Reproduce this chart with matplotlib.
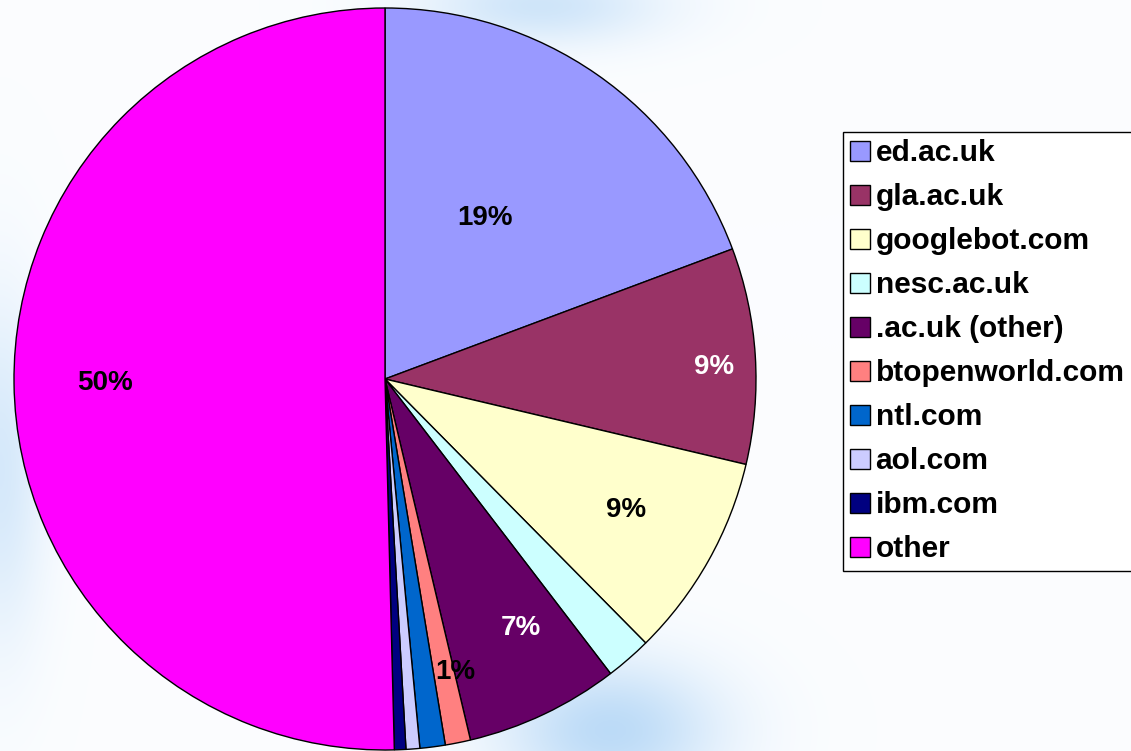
import matplotlib.pyplot as plt
import numpy as np
from matplotlib.patches import Patch

# share of hits per domain (percent)
domains = ['ed.ac.uk', 'gla.ac.uk', 'googlebot.com', 'nesc.ac.uk', '.ac.uk (other)',
           'btopenworld.com', 'ntl.com', 'aol.com', 'ibm.com', 'other']
shares = [19.3, 9.4, 8.9, 2.0, 6.7, 1.1, 1.1, 0.6, 0.5, 50.4]
colors = ['#9999FF', '#993366', '#FFFFCC', '#CCFFFF', '#660066',
          '#FF8080', '#0066CC', '#CCCCFF', '#000080', '#FF00FF']

# which slices carry a percentage label, where it sits, and in what colour
label_shown = [True, True, True, False, True, True, False, False, False, True]
label_dist = [0.51, 0.887, 0.739, 0.7, 0.765, 0.812, 0.8, 0.8, 0.8, 0.755]
label_turn = [2.9, -1.5, 0.8, 0, 3.2, 2.1, 0, 0, 0, 0]   # degrees off the slice middle
label_color = ['black', 'white', 'black', 'black', 'white', 'black', 'black', 'black', 'black', 'black']

plt.rcParams['font.family'] = ['Liberation Sans', 'DejaVu Sans']
plt.rcParams['font.weight'] = 'bold'

W, H = 1131, 751
fig = plt.figure(figsize=(W / 100, H / 100), dpi=100)

# soft bluish backdrop, like the slide template
yy, xx = np.mgrid[0:H, 0:W]
blob = (np.exp(-(((xx - 610) / 110.0) ** 2 + ((yy - 730) / 70.0) ** 2))
        + 0.7 * np.exp(-(((xx - 540) / 120.0) ** 2 + ((yy - 5) / 40.0) ** 2))
        + 0.6 * np.exp(-(((xx - 0) / 45.0) ** 2 + ((yy - 470) / 170.0) ** 2)))
blob = np.clip(blob, 0, 1)[..., None]
base = np.array([0.985, 0.992, 1.0])
blue = np.array([0.74, 0.86, 0.97])
bg = base * (1 - blob) + blue * blob
bg_ax = fig.add_axes([0, 0, 1, 1])
bg_ax.imshow(bg, aspect='auto', extent=(0, W, H, 0))
bg_ax.axis('off')

ax = fig.add_axes([0, 0, 1, 1])
ax.patch.set_alpha(0)
center = (385, H - 379)
radius = 371
wedges, _ = ax.pie(shares, colors=colors, startangle=90, counterclock=False,
                   center=center, radius=radius, frame=True,
                   wedgeprops=dict(edgecolor='black', linewidth=1.0))
ax.set_xlim(0, W)
ax.set_ylim(0, H)
ax.set_aspect('equal')
ax.axis('off')

for w, s, show, d, t, c in zip(wedges, shares, label_shown, label_dist, label_turn, label_color):
    if not show:
        continue
    ang = np.deg2rad((w.theta1 + w.theta2) / 2 + t)
    ax.text(center[0] + radius * d * np.cos(ang), center[1] + radius * d * np.sin(ang),
            f'{s:.0f}%', ha='center', va='center', fontsize=20, fontweight='bold', color=c)

handles = [Patch(facecolor=c, edgecolor='black', linewidth=1.0) for c in colors]
leg = fig.legend(handles, domains, loc='upper left',
                 bbox_to_anchor=(843 / W, 1 - 132 / H), borderaxespad=0,
                 prop=dict(weight='bold', size=21.5),
                 handlelength=0.64, handleheight=0.64, handletextpad=0.2,
                 labelspacing=0.535, borderpad=0.25, fancybox=False, framealpha=1)
leg.get_frame().set_edgecolor('black')
leg.get_frame().set_linewidth(1.0)

fig.savefig('out.png', dpi=100)
